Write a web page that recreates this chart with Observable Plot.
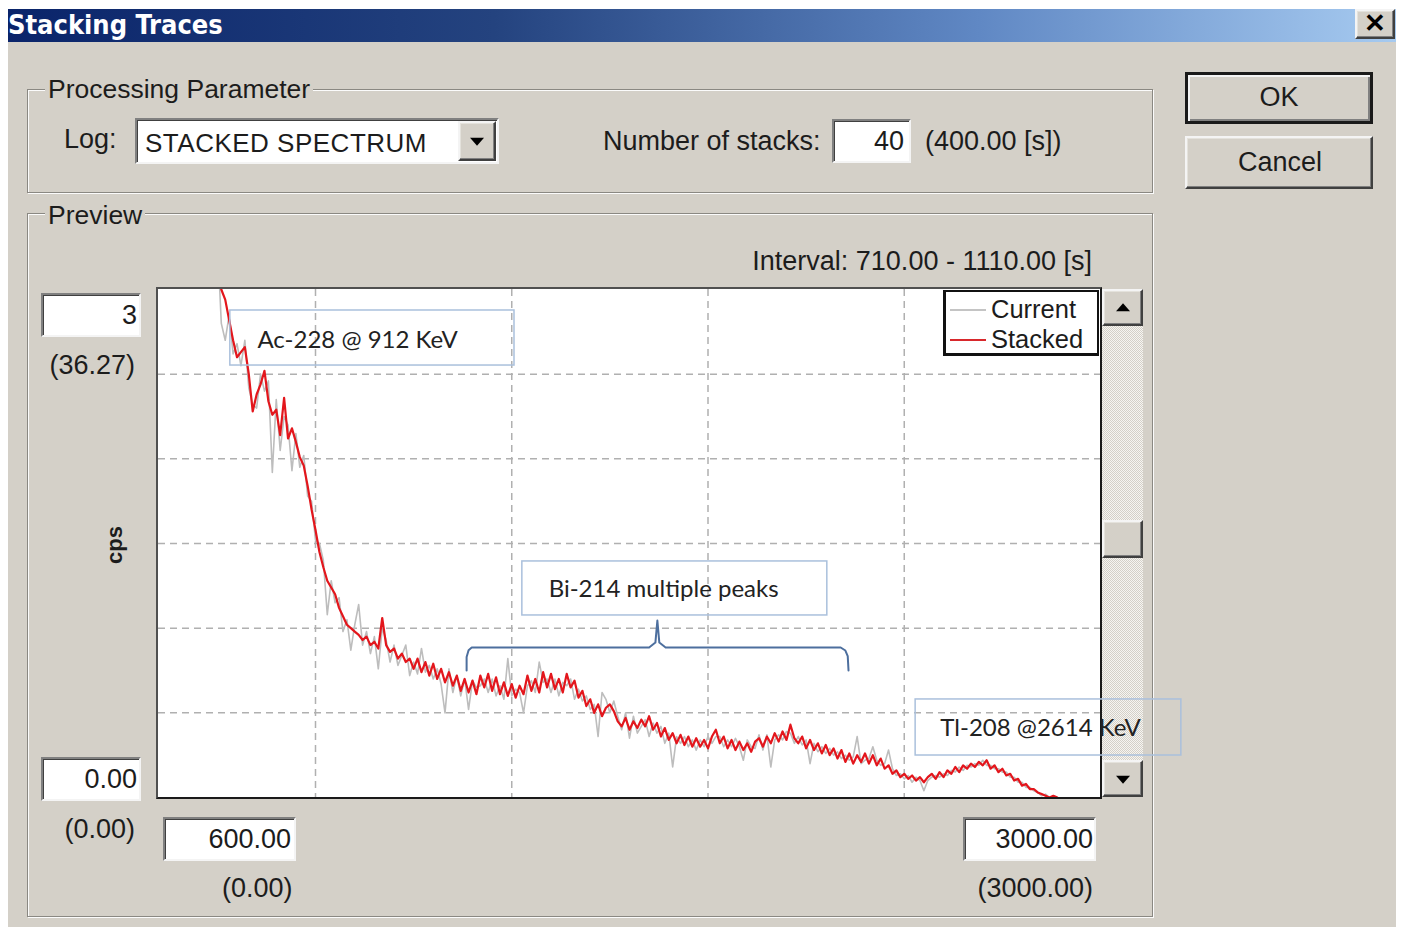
<!DOCTYPE html>
<html><head><meta charset="utf-8">
<script src="https://cdn.jsdelivr.net/npm/d3@7"></script>
<script src="https://cdn.jsdelivr.net/npm/@observablehq/plot@0.6"></script>
<style>
*{box-sizing:border-box}
body{margin:0;width:1402px;height:927px;background:#fff;position:relative;overflow:hidden;font-family:"Liberation Sans",Arial,sans-serif;color:#1c1c1c}
.a{position:absolute}
.t{position:absolute;white-space:nowrap;line-height:1;transform:translateY(-50%);font-size:27px}
.raised{background:#d4d0c8;border:2px solid;border-color:#f4f4f4 #404040 #404040 #f4f4f4;box-shadow:inset -1px -1px #808080,inset 1px 1px #e4e2dc}
.sunken{background:#fff;border:2px solid;border-color:#808080 #f4f4f4 #f4f4f4 #808080;box-shadow:inset 1px 1px #404040}
.group{position:absolute;border:1px solid #8a8882;box-shadow:1px 1px 0 #fbfbfb,inset 1px 1px 0 #fbfbfb}
.glab{position:absolute;background:#d4d0c8;padding:0 3px;white-space:nowrap;line-height:1;transform:translateY(-50%);font-size:26.5px}
.tri-d{width:0;height:0;border-left:7px solid transparent;border-right:7px solid transparent;border-top:8px solid #000;position:absolute;left:50%;top:50%;transform:translate(-50%,-40%)}
.tri-u{width:0;height:0;border-left:7px solid transparent;border-right:7px solid transparent;border-bottom:8px solid #000;position:absolute;left:50%;top:50%;transform:translate(-50%,-60%)}
</style></head>
<body>
<div id="dlg" class="a" style="left:8px;top:42px;width:1388px;height:885px;background:#d4d0c8"></div>
<div class="a" style="left:8px;top:9px;width:1388px;height:33px;background:linear-gradient(90deg,#0a246a 0%,#24437f 35%,#6088c4 70%,#a6caf0 100%)">
  <div class="t" style="left:0px;top:15px;font-size:27px;font-weight:bold;color:#fff;font-family:'DejaVu Sans Condensed','Liberation Sans',sans-serif">Stacking Traces</div>
</div>
<div class="a raised" style="left:1355px;top:9px;width:40px;height:30px;font-weight:bold;font-size:26px;text-align:center;line-height:24px;color:#000">✕</div>

<div class="group" style="left:27px;top:89px;width:1126px;height:104px"></div>
<div class="glab" style="left:45px;top:89px">Processing Parameter</div>
<div class="t" style="left:64px;top:139px">Log:</div>
<div class="a sunken" style="left:135px;top:118px;width:364px;height:46px"></div>
<div class="t" style="left:145px;top:143px;font-size:26px;letter-spacing:0.5px">STACKED SPECTRUM</div>
<div class="a raised" style="left:458px;top:121px;width:38px;height:40px"><div class="tri-d"></div></div>
<div class="t" style="left:603px;top:141px">Number of stacks:</div>
<div class="a sunken" style="left:832px;top:119px;width:79px;height:44px"></div>
<div class="t" style="right:498px;top:141px">40</div>
<div class="t" style="left:925px;top:141px">(400.00 [s])</div>

<div class="a raised" style="left:1185px;top:72px;width:188px;height:52px;border:3px solid #1a1a1a;box-shadow:inset 2px 2px #f4f4f4,inset -2px -2px #808080"></div>
<div class="t" style="left:1279px;top:97px;transform:translate(-50%,-50%)">OK</div>
<div class="a raised" style="left:1185px;top:136px;width:188px;height:53px"></div>
<div class="t" style="left:1280px;top:162px;transform:translate(-50%,-50%)">Cancel</div>

<div class="group" style="left:27px;top:213px;width:1126px;height:704px"></div>
<div class="glab" style="left:45px;top:215px">Preview</div>
<div class="t" style="right:310px;top:261px">Interval: 710.00 - 1110.00 [s]</div>

<div class="a sunken" style="left:41px;top:293px;width:100px;height:44px"></div>
<div class="t" style="right:1265px;top:315px">3</div>
<div class="t" style="right:1267px;top:365px">(36.27)</div>
<div class="t" style="left:115px;top:545px;font-size:22px;font-weight:bold;transform:translate(-50%,-50%) rotate(-90deg)">cps</div>
<div class="a sunken" style="left:41px;top:757px;width:100px;height:44px"></div>
<div class="t" style="right:1265px;top:779px">0.00</div>
<div class="t" style="right:1267px;top:829px">(0.00)</div>

<div class="a sunken" style="left:163px;top:817px;width:133px;height:44px"></div>
<div class="t" style="right:1111px;top:839px">600.00</div>
<div class="t" style="left:222px;top:888px">(0.00)</div>
<div class="a sunken" style="left:963px;top:817px;width:133px;height:44px"></div>
<div class="t" style="right:309px;top:839px">3000.00</div>
<div class="t" style="right:309px;top:888px">(3000.00)</div>

<div class="a" style="left:156px;top:287px;width:946px;height:512px;background:#fff;border:2px solid;border-color:#505050 #1a1a1a #1a1a1a #505050"></div>
<div class="a" style="left:1102px;top:289px;width:41px;height:508px;background:repeating-conic-gradient(#d4d0c8 0 25%,#f6f5f2 0 50%) 0 0/2px 2px"></div>
<div class="a raised" style="left:1102px;top:289px;width:41px;height:37px"><div class="tri-u"></div></div>
<div class="a raised" style="left:1102px;top:520px;width:41px;height:38px"></div>
<div class="a raised" style="left:1102px;top:760px;width:41px;height:37px"><div class="tri-d"></div></div>

<div id="chart" class="a" style="left:158px;top:289px"></div>

<div class="a" style="left:943px;top:290px;width:156px;height:66px;background:#fff;border:2px solid #111;border-left-width:3px;border-bottom-width:3px"></div>
<div class="a" style="left:950px;top:309px;width:36px;height:2px;background:#c4c4c4"></div>
<div class="t" style="left:991px;top:310px;font-size:25.5px">Current</div>
<div class="a" style="left:950px;top:339px;width:36px;height:2px;background:#d8282c"></div>
<div class="t" style="left:991px;top:340px;font-size:25.5px">Stacked</div>

<script>
// Spectrum channels (keV) and count rates (cps)
const energy = [
  750,760,770,780,790,800,810,820,830,840,
  850,860,870,880,890,900,910,920,930,940,
  950,960,970,980,990,1000,1010,1020,1030,1040,
  1050,1060,1070,1080,1090,1100,1110,1120,1130,1140,
  1150,1160,1170,1180,1190,1200,1210,1220,1230,1240,
  1250,1260,1270,1280,1290,1300,1310,1320,1330,1340,
  1350,1360,1370,1380,1390,1400,1410,1420,1430,1440,
  1450,1460,1470,1480,1490,1500,1510,1520,1530,1540,
  1550,1560,1570,1580,1590,1600,1610,1620,1630,1640,
  1650,1660,1670,1680,1690,1700,1710,1720,1730,1740,
  1750,1760,1770,1780,1790,1800,1810,1820,1830,1840,
  1850,1860,1870,1880,1890,1900,1910,1920,1930,1940,
  1950,1960,1970,1980,1990,2000,2010,2020,2030,2040,
  2050,2060,2070,2080,2090,2100,2110,2120,2130,2140,
  2150,2160,2170,2180,2190,2200,2210,2220,2230,2240,
  2250,2260,2270,2280,2290,2300,2310,2320,2330,2340,
  2350,2360,2370,2380,2390,2400,2410,2420,2430,2440,
  2450,2460,2470,2480,2490,2500,2510,2520,2530,2540,
  2550,2560,2570,2580,2590,2600,2610,2620,2630,2640,
  2650,2660,2670,2680,2690,2700,2710,2720,2730,2740,
  2750,2760,2770,2780,2790,2800,2810,2820,2830,2840,
  2850,2860,2870,2880,2890,2900,2910
];
const stacked = [
  3.20,3.00,2.94,2.82,2.70,2.60,2.63,2.66,2.50,2.28,
  2.38,2.44,2.52,2.34,2.26,2.29,2.14,2.36,2.12,2.18,
  2.10,2.01,1.96,1.84,1.70,1.58,1.45,1.36,1.28,1.24,
  1.20,1.12,1.07,1.02,1.00,0.98,0.96,0.93,0.95,0.90,
  0.92,0.88,1.06,0.90,0.86,0.88,0.82,0.85,0.80,0.82,
  0.76,0.82,0.74,0.80,0.72,0.79,0.70,0.76,0.68,0.74,
  0.66,0.72,0.63,0.70,0.62,0.69,0.61,0.72,0.65,0.73,
  0.63,0.71,0.61,0.68,0.60,0.67,0.59,0.66,0.61,0.72,
  0.63,0.70,0.62,0.74,0.65,0.73,0.64,0.70,0.62,0.73,
  0.65,0.69,0.59,0.63,0.54,0.58,0.50,0.55,0.48,0.53,
  0.55,0.51,0.45,0.42,0.47,0.40,0.45,0.41,0.46,0.42,
  0.48,0.40,0.44,0.36,0.41,0.34,0.38,0.32,0.37,0.31,
  0.36,0.30,0.35,0.30,0.34,0.29,0.36,0.40,0.32,0.36,
  0.29,0.34,0.28,0.33,0.28,0.32,0.27,0.33,0.35,0.30,
  0.36,0.32,0.38,0.33,0.39,0.34,0.43,0.35,0.32,0.36,
  0.29,0.34,0.28,0.32,0.26,0.31,0.25,0.29,0.23,0.28,
  0.21,0.26,0.20,0.25,0.21,0.26,0.20,0.25,0.19,0.23,
  0.17,0.19,0.14,0.16,0.12,0.14,0.11,0.13,0.10,0.12,
  0.09,0.12,0.14,0.11,0.15,0.12,0.16,0.14,0.18,0.15,
  0.19,0.17,0.20,0.18,0.21,0.19,0.22,0.17,0.19,0.15,
  0.17,0.13,0.14,0.10,0.11,0.07,0.08,0.05,0.05,0.03,
  0.02,0.01,0.00,0.01,0.00,-0.05,-0.10
];
const current = [
  3.30,2.80,2.70,2.85,2.62,2.68,2.55,2.70,2.42,2.32,
  2.30,2.50,2.40,2.46,1.92,2.35,2.05,2.25,2.20,1.93,
  2.15,1.95,2.02,1.78,1.75,1.52,1.50,1.40,1.08,1.28,
  1.15,1.18,0.98,1.05,0.87,1.02,1.14,0.90,0.98,0.85,
  0.95,0.76,1.00,0.93,0.80,0.90,0.78,0.84,0.90,0.72,
  0.80,0.73,0.88,0.74,0.78,0.70,0.76,0.67,0.50,0.76,
  0.62,0.72,0.60,0.70,0.52,0.69,0.65,0.66,0.70,0.62,
  0.70,0.60,0.66,0.58,0.82,0.60,0.64,0.62,0.50,0.66,
  0.69,0.62,0.80,0.68,0.70,0.62,0.70,0.60,0.68,0.66,
  0.70,0.58,0.64,0.57,0.60,0.52,0.55,0.36,0.62,0.58,
  0.50,0.57,0.48,0.40,0.50,0.35,0.48,0.38,0.42,0.46,
  0.36,0.44,0.38,0.42,0.32,0.38,0.18,0.36,0.32,0.36,
  0.30,0.34,0.28,0.34,0.30,0.36,0.32,0.36,0.36,0.30,
  0.34,0.30,0.35,0.30,0.22,0.34,0.30,0.29,0.37,0.28,
  0.37,0.18,0.34,0.37,0.34,0.39,0.38,0.32,0.36,0.31,
  0.34,0.20,0.32,0.27,0.30,0.26,0.29,0.25,0.27,0.23,
  0.25,0.22,0.24,0.36,0.20,0.22,0.23,0.30,0.22,0.19,
  0.20,0.28,0.17,0.13,0.14,0.11,0.13,0.09,0.12,0.10,
  0.04,0.10,0.12,0.13,0.12,0.14,0.13,0.16,0.15,0.18,
  0.16,0.19,0.18,0.20,0.19,0.22,0.19,0.19,0.17,0.17,
  0.15,0.15,0.12,0.12,0.09,0.09,0.06,0.06,0.04,0.03,
  0.01,0.02,0.00,0.00,-0.02,-0.06,-0.10
];
const xDomain = [600, 3000];
const yDomain = [0, 3];
const xGrid = [1000, 1500, 2000, 2500];
const yGrid = [0.5, 1, 1.5, 2, 2.5];

// Callout annotations (data coordinates)
const calloutLabels = ["Ac-228 @ 912 KeV", "Bi-214 multiple peaks", "Tl-208 @2614 KeV"];
const calloutE1 = [783, 1527, 2529];
const calloutE2 = [1507, 2304, 3206];
const calloutV1 = [2.876, 1.394, 0.579];
const calloutV2 = [2.551, 1.075, 0.248];
const calloutTextE = [852, 1594, 2592];
const calloutTextV = [2.70, 1.228, 0.407];
// Brace under the Bi-214 label
const braceE = [1385, 1385, 1390, 1398, 1850, 1866, 1871, 1876, 1892, 2338, 2350, 2356, 2358];
const braceV = [0.750, 0.830, 0.870, 0.886, 0.886, 0.915, 1.045, 0.915, 0.886, 0.886, 0.868, 0.835, 0.750];

const rows = energy.map((e, i) => ({energy: e, stacked: stacked[i], current: current[i]}));
const callouts = calloutLabels.map((label, i) => ({label, x1: calloutE1[i], x2: calloutE2[i], y1: calloutV1[i], y2: calloutV2[i], tx: calloutTextE[i], ty: calloutTextV[i]}));
const brace = braceE.map((e, i) => ({e, v: braceV[i]}));

const dash = {stroke: "#b0b0b0", strokeWidth: 1.5, strokeDasharray: "7,5"};
const chart = Plot.plot({
  width: 1032, height: 508,
  marginLeft: 0, marginRight: 90, marginTop: 0, marginBottom: 0,
  x: {domain: xDomain, axis: null},
  y: {domain: yDomain, axis: null},
  style: {background: "transparent", overflow: "visible"},
  marks: [
    Plot.ruleX(xGrid, dash),
    Plot.ruleY(yGrid, dash),
    Plot.line(rows, {x: "energy", y: "current", stroke: "#bdbdbd", strokeWidth: 1.6, clip: true}),
    Plot.line(rows, {x: "energy", y: "stacked", stroke: "#e3161c", strokeWidth: 2.2, clip: true}),
    Plot.rect(callouts, {x1: "x1", x2: "x2", y1: "y1", y2: "y2", fill: "none", stroke: "#aac0dc", strokeWidth: 1.5}),
    Plot.text(callouts, {x: "tx", y: "ty", text: "label", textAnchor: "start", fontSize: 24, fontFamily: "Lato, 'Open Sans', sans-serif", fill: "#222"}),
    Plot.line(brace, {x: "e", y: "v", stroke: "#4d6f9e", strokeWidth: 2})
  ]
});
document.getElementById("chart").appendChild(chart);
</script>
</body></html>
